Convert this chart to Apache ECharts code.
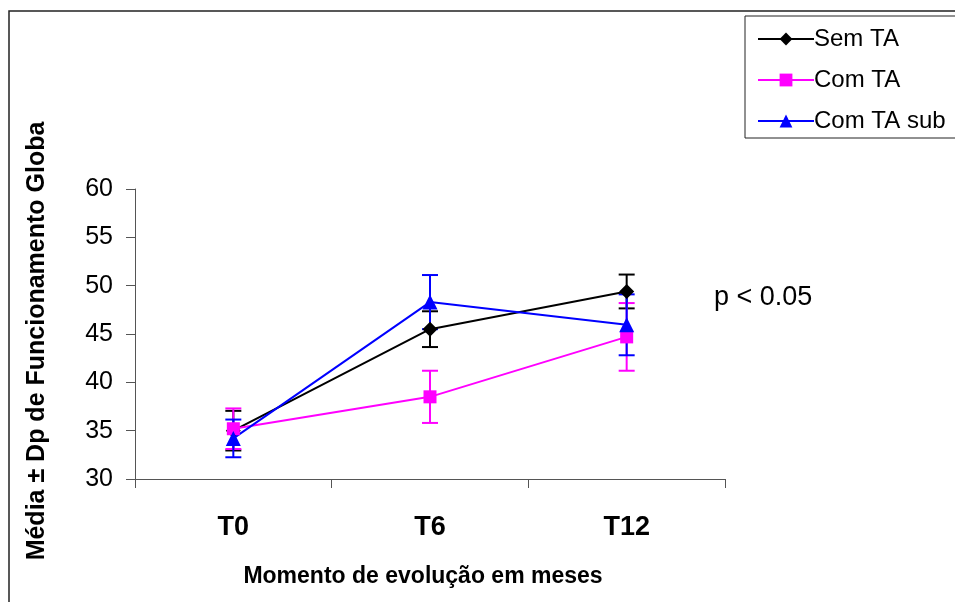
<!DOCTYPE html>
<html>
<head>
<meta charset="utf-8">
<script src="https://cdn.jsdelivr.net/npm/echarts@6/dist/echarts.min.js"></script>
<style>
  html, body { margin: 0; padding: 0; background: #fff; }
  #chart { width: 955px; height: 602px; }
</style>
</head>
<body>
<div id="chart"></div>
<script>
// Time points (months of follow-up)
const categories = ['T0', 'T6', 'T12'];

// Group means and standard deviations of the global functioning score
const semTaMean = [35.0, 45.5, 49.4];
const semTaSd = [2.05, 1.85, 1.75];
const comTaMean = [35.2, 38.5, 44.7];
const comTaSd = [2.1, 2.7, 3.5];
const comTaSubMean = [34.2, 48.3, 45.95];
const comTaSubSd = [1.95, 2.8, 3.15];

const yTicks = [30, 35, 40, 45, 50, 55, 60];

const FONT = '"Liberation Sans", Arial, sans-serif';

function errorData(mean, sd) {
  return mean.map((m, i) => [i, m - sd[i], m + sd[i]]);
}

function errorSeries(name, color, mean, sd) {
  return {
    type: 'custom',
    name: name + ' dp',
    z: 2,
    silent: true,
    data: errorData(mean, sd),
    renderItem: function (params, api) {
      const lo = api.coord([api.value(0), api.value(1)]);
      const hi = api.coord([api.value(0), api.value(2)]);
      const half = 8;
      const style = { stroke: color, lineWidth: 2 };
      return {
        type: 'group',
        children: [
          { type: 'line', shape: { x1: hi[0], y1: hi[1], x2: lo[0], y2: lo[1] }, style: style },
          { type: 'line', shape: { x1: hi[0] - half, y1: hi[1], x2: hi[0] + half, y2: hi[1] }, style: style },
          { type: 'line', shape: { x1: lo[0] - half, y1: lo[1], x2: lo[0] + half, y2: lo[1] }, style: style }
        ]
      };
    }
  };
}

function lineSeries(name, color, mean, symbol, size) {
  return {
    type: 'line',
    name: name,
    data: mean,
    z: 3,
    symbol: symbol,
    symbolSize: size,
    showAllSymbol: true,
    lineStyle: { color: color, width: 2 },
    itemStyle: { color: color, borderWidth: 0 },
    emphasis: { disabled: true }
  };
}

const diamond = 'path://M0,-1L1,0L0,1L-1,0Z';

const chart = echarts.init(document.getElementById('chart'), null, { renderer: 'canvas' });

chart.setOption({
  animation: false,
  backgroundColor: '#fff',
  grid: { left: 135, right: 230, top: 189, bottom: 123, containLabel: false },
  legend: {
    orient: 'vertical',
    left: 752,
    top: 21,
    itemWidth: 56,
    itemHeight: 16,
    itemGap: 15,
    data: ['Sem TA', 'Com TA', 'Com TA sub'],
    textStyle: { fontFamily: FONT, fontSize: 24, lineHeight: 26, color: '#000', padding: [0, 0, 0, -5] },
    selectedMode: false
  },
  xAxis: {
    type: 'category',
    data: categories,
    boundaryGap: true,
    axisLine: { lineStyle: { color: '#555', width: 1 } },
    axisTick: { show: true, length: 9, lineStyle: { color: '#555' } },
    axisLabel: { fontFamily: FONT, fontSize: 27, fontWeight: 'bold', color: '#000', margin: 35 }
  },
  yAxis: {
    type: 'value',
    min: yTicks[0],
    max: yTicks[yTicks.length - 1],
    interval: 5,
    axisLine: { show: true, lineStyle: { color: '#555', width: 1 } },
    axisTick: { show: true, length: 9, lineStyle: { color: '#555' } },
    axisLabel: { fontFamily: FONT, fontSize: 25, color: '#000', margin: 22 },
    splitLine: { show: false }
  },
  graphic: [
    {
      type: 'rect',
      silent: true,
      shape: { x: 9, y: 11, width: 980, height: 620 },
      style: { fill: 'none', stroke: '#222', lineWidth: 1.5 }
    },
    {
      type: 'rect',
      silent: true,
      shape: { x: 745, y: 16, width: 240, height: 122 },
      style: { fill: '#fff', stroke: '#222', lineWidth: 1 },
      z: 0
    },
    {
      type: 'text',
      silent: true,
      x: 37,
      y: 341,
      rotation: Math.PI / 2,
      style: {
        text: 'Média ± Dp de Funcionamento Globa',
        font: 'bold 25px ' + FONT,
        fill: '#000',
        textAlign: 'center',
        textVerticalAlign: 'middle'
      }
    },
    {
      type: 'text',
      silent: true,
      x: 423,
      y: 577,
      style: {
        text: 'Momento de evolução em meses',
        font: 'bold 23px ' + FONT,
        fill: '#000',
        textAlign: 'center',
        textVerticalAlign: 'middle'
      }
    },
    {
      type: 'text',
      silent: true,
      x: 714,
      y: 298,
      style: {
        text: 'p < 0.05',
        font: '27px ' + FONT,
        fill: '#000',
        textAlign: 'left',
        textVerticalAlign: 'middle'
      }
    }
  ],
  series: [
    errorSeries('Sem TA', '#000000', semTaMean, semTaSd),
    lineSeries('Sem TA', '#000000', semTaMean, diamond, 15),
    errorSeries('Com TA', '#FF00FF', comTaMean, comTaSd),
    lineSeries('Com TA', '#FF00FF', comTaMean, 'rect', 13),
    errorSeries('Com TA sub', '#0000FF', comTaSubMean, comTaSubSd),
    lineSeries('Com TA sub', '#0000FF', comTaSubMean, 'triangle', 15)
  ]
});
</script>
</body>
</html>
